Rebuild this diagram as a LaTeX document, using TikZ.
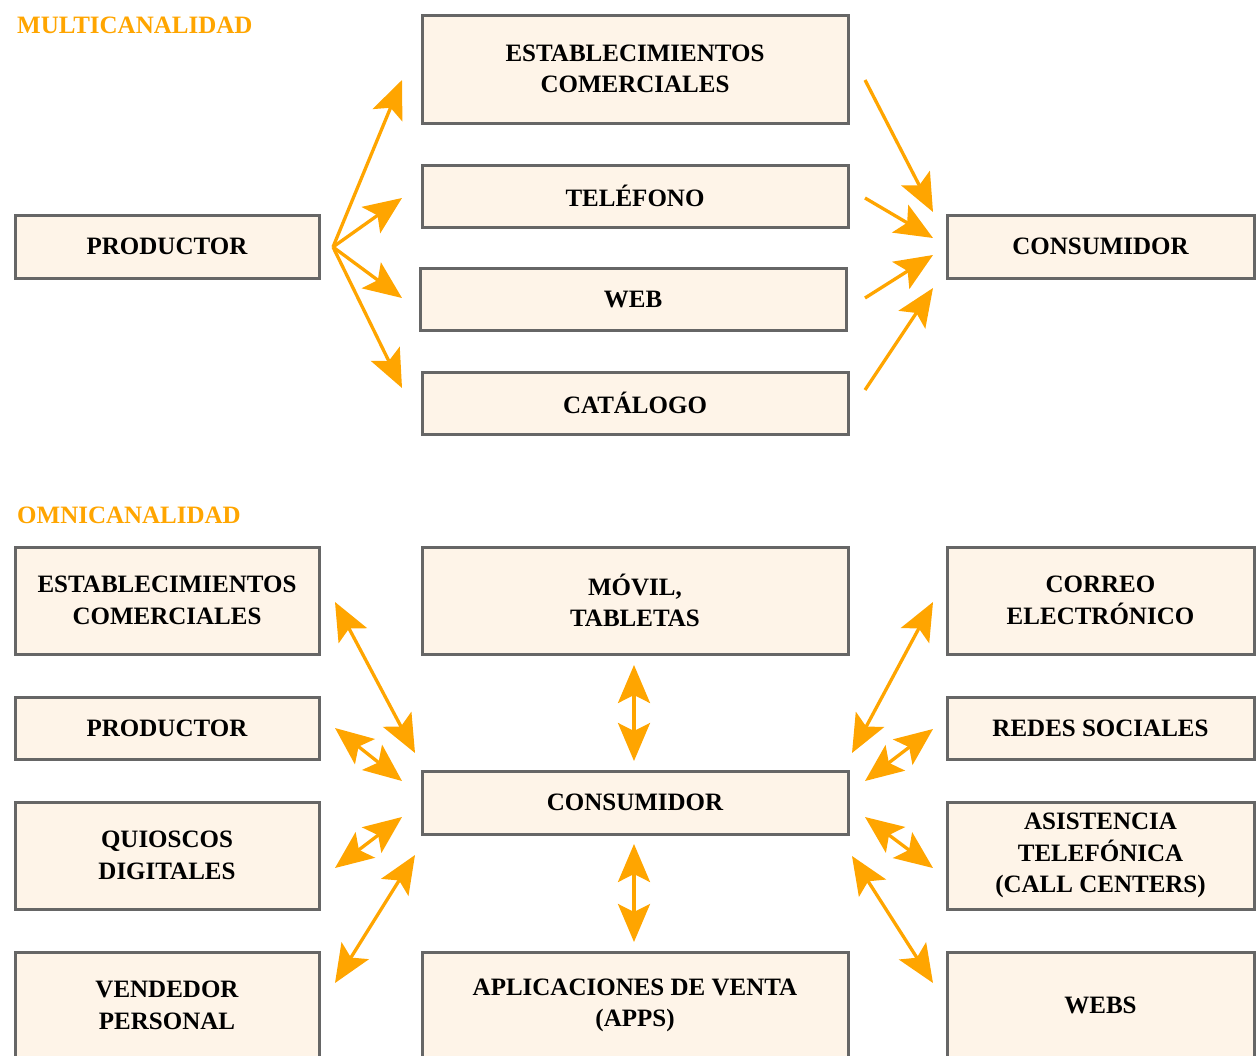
\documentclass[tikz,border=0pt]{standalone}
\usepackage{fontspec}
\setmainfont{Liberation Serif}
\usetikzlibrary{arrows.meta}
\definecolor{boxfill}{HTML}{FEF4E8}
\definecolor{boxgray}{HTML}{666666}
\definecolor{arr}{HTML}{FFA500}
\begin{document}
\begin{tikzpicture}[x=1pt,y=-1pt,
  box/.style={draw=boxgray, line width=3pt, fill=boxfill, align=center, inner sep=0pt,
    font=\fontsize{25}{31.5}\selectfont\bfseries},
  ttl/.style={text=arr, anchor=base west, inner sep=0pt, font=\fontsize{25}{30}\selectfont\bfseries},
  conn/.style={draw=arr, line width=3.3pt, -{Stealth[length=38pt,width=32pt,inset=8pt]}},
  bid/.style={draw=arr, line width=3.3pt, {Stealth[length=38pt,width=32pt,inset=8pt]}-{Stealth[length=38pt,width=32pt,inset=8pt]}}]
\useasboundingbox (0,0) rectangle (1258,1055);
\clip (0,0) rectangle (1258,1055);
% titles
\node[ttl] (t1) at (17,33) {MULTICANALIDAD};
\node[ttl] (t2) at (17,523) {OMNICANALIDAD};
% top section
\node[box, minimum width=426, minimum height=108] (est1) at (635,69) {ESTABLECIMIENTOS\\COMERCIALES};
\node[box, minimum width=426, minimum height=62] (tel) at (635,196) {TELÉFONO};
\node[box, minimum width=426, minimum height=62] (web) at (633,299) {WEB};
\node[box, minimum width=426, minimum height=62] (cat) at (635,403) {CATÁLOGO};
\node[box, minimum width=304, minimum height=63] (prod1) at (167,246.5) {PRODUCTOR};
\node[box, minimum width=307, minimum height=63] (cons1) at (1100.5,246.5) {CONSUMIDOR};
\coordinate (po) at (333,247);
\coordinate (e1) at (402,80);
\coordinate (e2) at (402,198);
\coordinate (e3) at (402,298);
\coordinate (e4) at (402,388);
\draw[conn] (po) -- (e1);
\draw[conn] (po) -- (e2);
\draw[conn] (po) -- (e3);
\draw[conn] (po) -- (e4);
\coordinate (s1) at (865,80);  \coordinate (c1) at (933,212);
\coordinate (s2) at (865,198); \coordinate (c2) at (933,238);
\coordinate (s3) at (865,298); \coordinate (c3) at (933,255);
\coordinate (s4) at (865,390); \coordinate (c4) at (933,288);
\draw[conn] (s1) -- (c1);
\draw[conn] (s2) -- (c2);
\draw[conn] (s3) -- (c3);
\draw[conn] (s4) -- (c4);
% bottom section
\node[box, minimum width=304, minimum height=107] (est2) at (167,600.5) {ESTABLECIMIENTOS\\COMERCIALES};
\node[box, minimum width=426, minimum height=107] (movil) at (635,600.5) {MÓVIL,\\TABLETAS};
\node[box, minimum width=307, minimum height=107] (correo) at (1100.5,600.5) {CORREO\\ELECTRÓNICO};
\node[box, minimum width=304, minimum height=62] (prod2) at (167,728) {PRODUCTOR};
\node[box, minimum width=307, minimum height=62] (redes) at (1100.5,728) {REDES SOCIALES};
\node[box, minimum width=426, minimum height=63] (cons2) at (635,802.5) {CONSUMIDOR};
\node[box, minimum width=304, minimum height=107] (quio) at (167,855.5) {QUIOSCOS\\DIGITALES};
\node[box, minimum width=307, minimum height=107] (asist) at (1100.5,855.5) {ASISTENCIA\\TELEFÓNICA\\(CALL CENTERS)};
\node[box, minimum width=304, minimum height=107] (vend) at (167,1005.5) {VENDEDOR\\PERSONAL};
\node[box, minimum width=426, minimum height=107] (apps) at (635,1005.5) {APLICACIONES DE VENTA\\(APPS)};
\node[box, minimum width=307, minimum height=107] (webs) at (1100.5,1005.5) {WEBS};
% bidirectional arrows left
\coordinate (l1a) at (335,602); \coordinate (l1b) at (415,753);
\coordinate (l2a) at (335,728); \coordinate (l2b) at (402,781);
\coordinate (l3a) at (335,868); \coordinate (l3b) at (402,817);
\coordinate (l4a) at (335,983); \coordinate (l4b) at (415,855);
\draw[bid] (l1a) -- (l1b);
\draw[bid] (l2a) -- (l2b);
\draw[bid] (l3a) -- (l3b);
\draw[bid] (l4a) -- (l4b);
% right
\coordinate (r1a) at (933,602); \coordinate (r1b) at (852,753);
\coordinate (r2a) at (933,729); \coordinate (r2b) at (865,781);
\coordinate (r3a) at (933,868); \coordinate (r3b) at (865,817);
\coordinate (r4a) at (933,983); \coordinate (r4b) at (852,856);
\draw[bid] (r1a) -- (r1b);
\draw[bid] (r2a) -- (r2b);
\draw[bid] (r3a) -- (r3b);
\draw[bid] (r4a) -- (r4b);
% vertical
\coordinate (v1a) at (634,665); \coordinate (v1b) at (634,761);
\coordinate (v2a) at (634,844); \coordinate (v2b) at (634,942);
\draw[bid] (v1a) -- (v1b);
\draw[bid] (v2a) -- (v2b);
\end{tikzpicture}
\end{document}
